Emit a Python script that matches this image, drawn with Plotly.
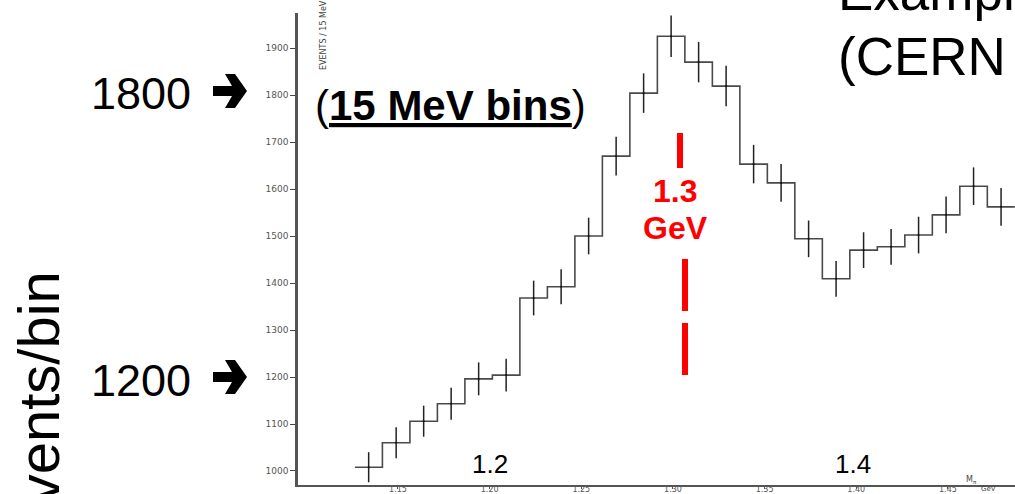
import plotly.graph_objects as go

# pi pi invariant mass histogram, 15 MeV bins
mass_centers = [1.134, 1.149, 1.164, 1.179, 1.194, 1.209, 1.224, 1.239,
                1.254, 1.269, 1.284, 1.299, 1.314, 1.329, 1.344, 1.359,
                1.374, 1.389, 1.404, 1.419, 1.434, 1.449, 1.464, 1.479]
events = [1008, 1060, 1106, 1143, 1196, 1204, 1368, 1392,
          1500, 1670, 1804, 1925, 1870, 1819, 1653, 1613,
          1494, 1409, 1470, 1477, 1502, 1545, 1606, 1562]
errors = [32, 33, 33, 34, 35, 35, 37, 37,
          39, 41, 42, 44, 43, 43, 41, 40,
          39, 38, 38, 38, 39, 39, 40, 40]
bin_width = 0.015

y_ticks = [1000, 1100, 1200, 1300, 1400, 1500, 1600, 1700, 1800, 1900]
x_ticks = [1.15, 1.20, 1.25, 1.30, 1.35, 1.40, 1.45]
x_tick_labels = ["1.15", "1.20", "1.25", "1.30", "1.35", "1.40", "1.45"]

W, H = 1015, 494
L, R, T, B = 298, 0, 13, 9
SANS = "Liberation Sans, Arial, sans-serif"


def px(x, y):
    """figure pixel -> paper coords of the plot area"""
    return (x - L) / (W - L - R), (H - B - y) / (H - T - B)


edges = [c - bin_width / 2 for c in mass_centers] + [mass_centers[-1] + bin_width / 2]
steps = events + [events[-1]]

fig = go.Figure()
fig.add_trace(go.Scatter(x=edges, y=steps, mode="lines", line_shape="hv",
                         line=dict(color="#4a4a4a", width=1.6), hoverinfo="skip"))
fig.add_trace(go.Scatter(x=mass_centers, y=events, mode="markers",
                         marker=dict(size=2, color="#111"),
                         error_y=dict(type="data", array=errors, width=0,
                                      thickness=1.5, color="#222")))


def note(x, y, text, size, color="black", bold=False, xanchor="center",
         yanchor="middle", angle=0, family=SANS):
    xp, yp = px(x, y)
    if bold:
        text = f"<b>{text}</b>"
    fig.add_annotation(x=xp, y=yp, xref="paper", yref="paper", text=text,
                       showarrow=False, xanchor=xanchor, yanchor=yanchor,
                       textangle=angle, font=dict(family=family, size=size, color=color))


def arrow(cy):
    # heavy right arrow pointing at the y axis, drawn as a filled path
    pts = [(213, -5), (232, -5), (225, -17), (235, -17), (247, 0),
           (235, 17), (225, 17), (232, 5), (213, 5)]
    path = ""
    for i, (x, dy) in enumerate(pts):
        xp, yp = px(x, cy + dy)
        path += ("M" if i == 0 else "L") + f"{xp:.5f},{yp:.5f} "
    fig.add_shape(type="path", xref="paper", yref="paper", path=path + "Z",
                  fillcolor="black", line=dict(width=0))


# big slide labels
note(193, 93, "1800", 45, xanchor="right")
arrow(91)
note(193, 380, "1200", 45, xanchor="right")
arrow(377)
note(38, 407, "Events/bin", 58, angle=-90)
note(450, 105, "(<b><u>15 MeV bins</u></b>)", 42)
note(490, 464, "1.2", 26)
note(853, 464, "1.4", 26)
note(836, 23, "Example", 53, xanchor="left", yanchor="bottom")
note(836, 88, "(CERN", 53, xanchor="left", yanchor="bottom")
note(675, 191, "1.3", 32, color="#ff0000", bold=True)
note(675, 228, "GeV", 32, color="#ff0000", bold=True)

# scanned axis captions
note(324, 35, "EVENTS / 15 MeV", 8, color="#444", angle=-90, family="DejaVu Sans")
note(971, 480, "M<sub>π</sub>", 8, color="#444", family="DejaVu Sans")
note(988, 489, "GeV", 7, color="#444", family="DejaVu Sans")

# red marker for 1.3 GeV
for x0, y0, y1 in [(680, 133, 168), (685, 259, 311), (685, 323, 375)]:
    a = px(x0, y0)
    b = px(x0, y1)
    fig.add_shape(type="line", xref="paper", yref="paper", x0=a[0], x1=b[0],
                  y0=a[1], y1=b[1], line=dict(color="#ff0000", width=6))

fig.update_layout(
    width=W, height=H,
    margin=dict(l=L, r=R, t=T, b=B, autoexpand=False),
    plot_bgcolor="white", paper_bgcolor="white",
    showlegend=False,
    xaxis=dict(range=[1.09545, 1.4866], tickvals=x_ticks, ticktext=x_tick_labels,
               automargin=False, showgrid=False, zeroline=False, showline=True,
               linecolor="#555", linewidth=1.5, ticks="outside", ticklen=2,
               tickcolor="#555", ticklabelstandoff=-6,
               tickfont=dict(family="DejaVu Sans", size=8, color="#555")),
    yaxis=dict(range=[970.2, 1974.5], tickvals=y_ticks, automargin=False,
               showgrid=False, zeroline=False, showline=True, linecolor="#555",
               linewidth=2.5, ticks="outside", ticklen=5, tickcolor="#444",
               tickfont=dict(family="DejaVu Sans", size=9, color="#555")),
)

# the page body has a default margin; drop it so the figure sits at 0,0
fig.write_html("out.html", config={"displayModeBar": False},
               post_script="document.body.style.margin='0';")
